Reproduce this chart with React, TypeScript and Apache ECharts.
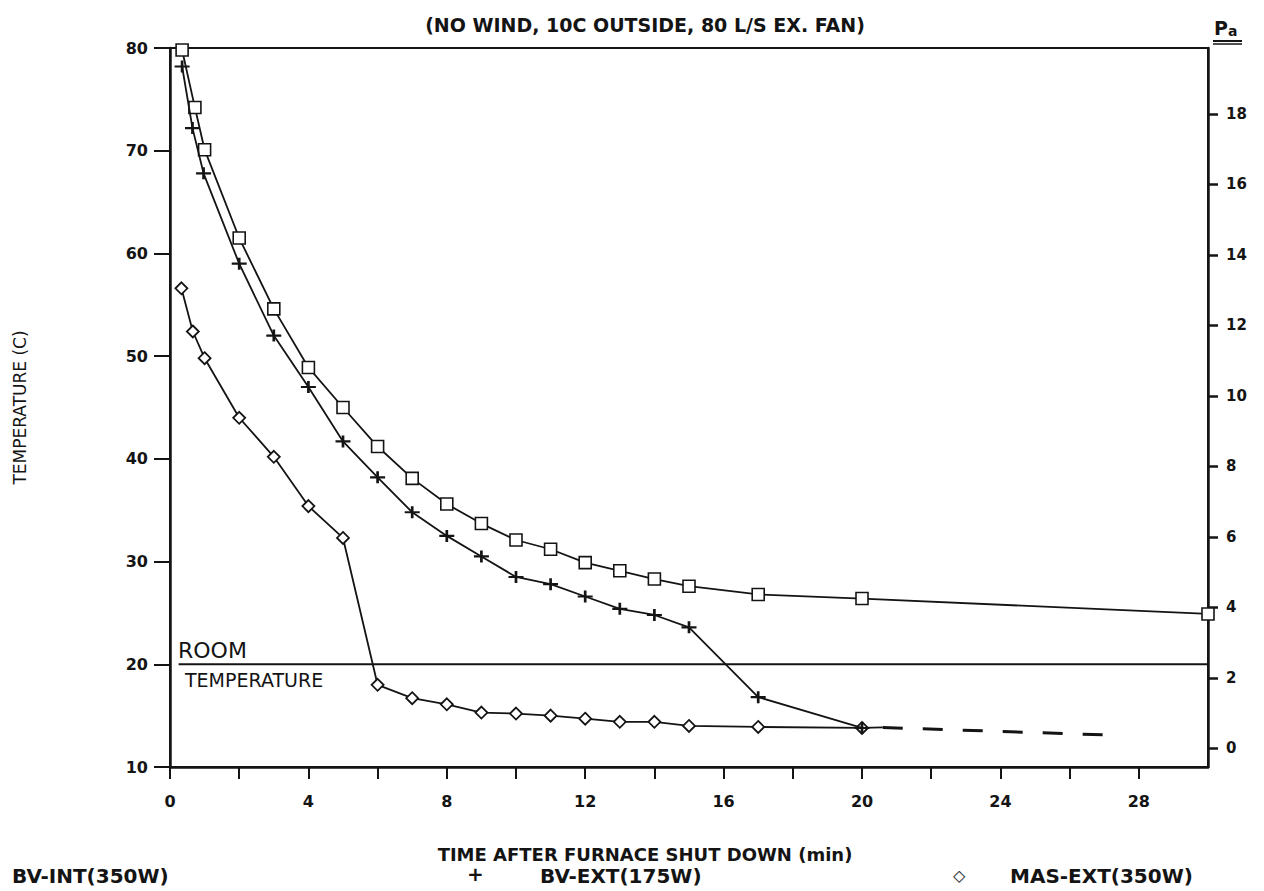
import React, { useEffect, useRef } from "react";
import * as echarts from "echarts";

// ---- axis ticks / labels ----
const X_TICKS = [0, 2, 4, 6, 8, 10, 12, 14, 16, 18, 20, 22, 24, 26, 28];
const X_LABELS = [0, 4, 8, 12, 16, 20, 24, 28];
const PA_TICKS = [0, 2, 4, 6, 8, 10, 12, 14, 16, 18];

// ---- series: BV-INT(350W) (squares) ----
const BV_INT_TIME = [0.35, 0.72, 1, 2, 3, 4, 5, 6, 7, 8, 9, 10, 11, 12, 13, 14, 15, 17, 20, 30];
const BV_INT_TEMP = [79.8, 74.2, 70.1, 61.5, 54.6, 48.9, 45.0, 41.2, 38.1, 35.6, 33.7, 32.1, 31.2, 29.9, 29.1, 28.3, 27.6, 26.8, 26.4, 24.9];

// ---- series: BV-EXT(175W) (plus) ----
const BV_EXT_TIME = [0.35, 0.65, 0.97, 2, 3, 4, 5, 6, 7, 8, 9, 10, 11, 12, 13, 14, 15, 17, 20];
const BV_EXT_TEMP = [78.2, 72.2, 67.8, 59.0, 52.0, 47.0, 41.7, 38.2, 34.8, 32.5, 30.5, 28.5, 27.8, 26.6, 25.4, 24.8, 23.6, 16.8, 13.8];

// ---- series: MAS-EXT(350W) (diamonds) ----
const MAS_EXT_TIME = [0.33, 0.66, 1, 2, 3, 4, 5, 6, 7, 8, 9, 10, 11, 12, 13, 14, 15, 17, 20];
const MAS_EXT_TEMP = [56.6, 52.4, 49.8, 44.0, 40.2, 35.4, 32.3, 18.0, 16.7, 16.1, 15.3, 15.2, 15.0, 14.7, 14.4, 14.4, 14.0, 13.9, 13.8];

// ---- extrapolation (dashed) ----
const EXTRAP_TIME = [20.6, 27.2];
const EXTRAP_TEMP = [13.85, 13.1];

// ---- room temperature reference ----
const ROOM_TIME = [0.25, 30];
const ROOM_TEMP = [20, 20];

const zip = (a: number[], b: number[]) => a.map((v, i) => [v, b[i]]);

const INK = "#141414";
const FONT = "DejaVu Sans";

const PLUS = "path://M0,4.1 H10 V5.9 H0 Z M4.1,0 H5.9 V10 H4.1 Z";

export default function App() {
  const ref = useRef<HTMLDivElement>(null);

  useEffect(() => {
    document.body.style.margin = "0";
    if (!ref.current) return;
    const chart = echarts.init(ref.current, undefined, { renderer: "svg" });

    const masData: any[] = zip(MAS_EXT_TIME, MAS_EXT_TEMP);
    masData.push({ value: [EXTRAP_TIME[0], EXTRAP_TEMP[0]], symbol: "none" });

    chart.setOption({
      animation: false,
      backgroundColor: "#ffffff",
      grid: {
        left: 170,
        right: 56,
        top: 48,
        bottom: 124,
        show: true,
        borderColor: INK,
        borderWidth: 2,
      },
      xAxis: {
        type: "value",
        min: 0,
        max: 30,
        name: "TIME AFTER FURNACE SHUT DOWN (min)",
        nameLocation: "middle",
        nameGap: 78,
        nameTextStyle: {
          color: INK,
          fontFamily: FONT,
          fontSize: 18,
          fontWeight: "bold",
          padding: [0, 88, 0, 0],
        },
        axisLine: { show: true, onZero: false, lineStyle: { color: INK, width: 2.5 } },
        axisTick: { show: true, length: 12, customValues: X_TICKS, lineStyle: { color: INK, width: 2 } },
        axisLabel: {
          customValues: X_LABELS,
          margin: 26,
          color: INK,
          fontFamily: FONT,
          fontSize: 16,
          fontWeight: "bold",
        },
        splitLine: { show: false },
      },
      yAxis: [
        {
          type: "value",
          min: 10,
          max: 80,
          interval: 10,
          name: "TEMPERATURE (C)",
          nameLocation: "middle",
          nameGap: 142,
          nameRotate: 90,
          nameTextStyle: { color: INK, fontFamily: FONT, fontSize: 17 },
          axisLine: { show: true, lineStyle: { color: INK, width: 2.5 } },
          axisTick: { show: true, length: 16, lineStyle: { color: INK, width: 2 } },
          axisLabel: { margin: 22, color: INK, fontFamily: FONT, fontSize: 16, fontWeight: "bold" },
          splitLine: { show: false },
        },
        {
          type: "value",
          position: "right",
          min: -0.53,
          max: 19.87,
          axisLine: { show: true, lineStyle: { color: INK, width: 2.5 } },
          axisTick: { show: true, length: 10, customValues: PA_TICKS, lineStyle: { color: INK, width: 2.5 } },
          axisLabel: {
            customValues: PA_TICKS,
            margin: 18,
            color: INK,
            fontFamily: FONT,
            fontSize: 15,
            fontWeight: "bold",
          },
          splitLine: { show: false },
        },
      ],
      series: [
        {
          name: "ROOM TEMPERATURE",
          type: "line",
          data: zip(ROOM_TIME, ROOM_TEMP),
          showSymbol: false,
          symbol: "none",
          lineStyle: { color: INK, width: 2 },
          silent: true,
        },
        {
          name: "BV-INT(350W)",
          type: "line",
          data: zip(BV_INT_TIME, BV_INT_TEMP),
          symbol: "rect",
          symbolSize: 12,
          lineStyle: { color: INK, width: 1.8 },
          itemStyle: { color: "#ffffff", borderColor: INK, borderWidth: 1.6 },
          z: 3,
        },
        {
          name: "BV-EXT(175W)",
          type: "line",
          data: zip(BV_EXT_TIME, BV_EXT_TEMP),
          symbol: PLUS,
          symbolSize: [15, 12],
          lineStyle: { color: INK, width: 1.8 },
          itemStyle: { color: INK, borderWidth: 0 },
          z: 4,
        },
        {
          name: "MAS-EXT(350W)",
          type: "line",
          data: masData,
          symbol: "diamond",
          symbolSize: 12,
          lineStyle: { color: INK, width: 1.8 },
          itemStyle: { color: "#ffffff", borderColor: INK, borderWidth: 1.8 },
          z: 3,
        },
        {
          name: "MAS-EXT extrapolated",
          type: "line",
          data: zip(EXTRAP_TIME, EXTRAP_TEMP),
          symbol: "none",
          lineStyle: { color: INK, width: 3, type: [20, 20] },
          silent: true,
        },
      ],
      graphic: [
        {
          type: "text",
          x: 645,
          y: 15,
          style: {
            text: "(NO WIND, 10C OUTSIDE, 80 L/S EX. FAN)",
            fill: INK,
            align: "center",
            font: `bold 19px "${FONT}"`,
          },
        },
        {
          type: "text",
          x: 1214,
          y: 18,
          style: {
            text: "{p|P}{a|a}",
            rich: {
              p: { font: `bold 19px "${FONT}"`, fill: INK },
              a: { font: `bold 14px "${FONT}"`, fill: INK, padding: [6, 0, 0, 0] },
            },
          },
        },
        { type: "line", shape: { x1: 1213, y1: 41, x2: 1242, y2: 41 }, style: { stroke: INK, lineWidth: 2 } },
        { type: "line", shape: { x1: 1213, y1: 44, x2: 1242, y2: 44 }, style: { stroke: INK, lineWidth: 1.5 } },
        {
          type: "text",
          x: 178,
          y: 639,
          style: { text: "ROOM", fill: INK, font: `22px "${FONT}"` },
        },
        {
          type: "text",
          x: 185,
          y: 670,
          style: { text: "TEMPERATURE", fill: INK, font: `19px "${FONT}"` },
        },
        {
          type: "text",
          x: 12,
          y: 866,
          style: { text: "BV-INT(350W)", fill: INK, font: `bold 20px "${FONT}"` },
        },
        {
          type: "text",
          x: 467,
          y: 864,
          style: { text: "+", fill: INK, font: `bold 20px "${FONT}"` },
        },
        {
          type: "text",
          x: 540,
          y: 866,
          style: { text: "BV-EXT(175W)", fill: INK, font: `bold 20px "${FONT}"` },
        },
        {
          type: "text",
          x: 953,
          y: 867,
          style: { text: "◇", fill: INK, font: `bold 16px "${FONT}"` },
        },
        {
          type: "text",
          x: 1010,
          y: 866,
          style: { text: "MAS-EXT(350W)", fill: INK, font: `bold 20px "${FONT}"` },
        },
      ],
    });

    return () => chart.dispose();
  }, []);

  return <div ref={ref} style={{ width: 1264, height: 891 }} />;
}
